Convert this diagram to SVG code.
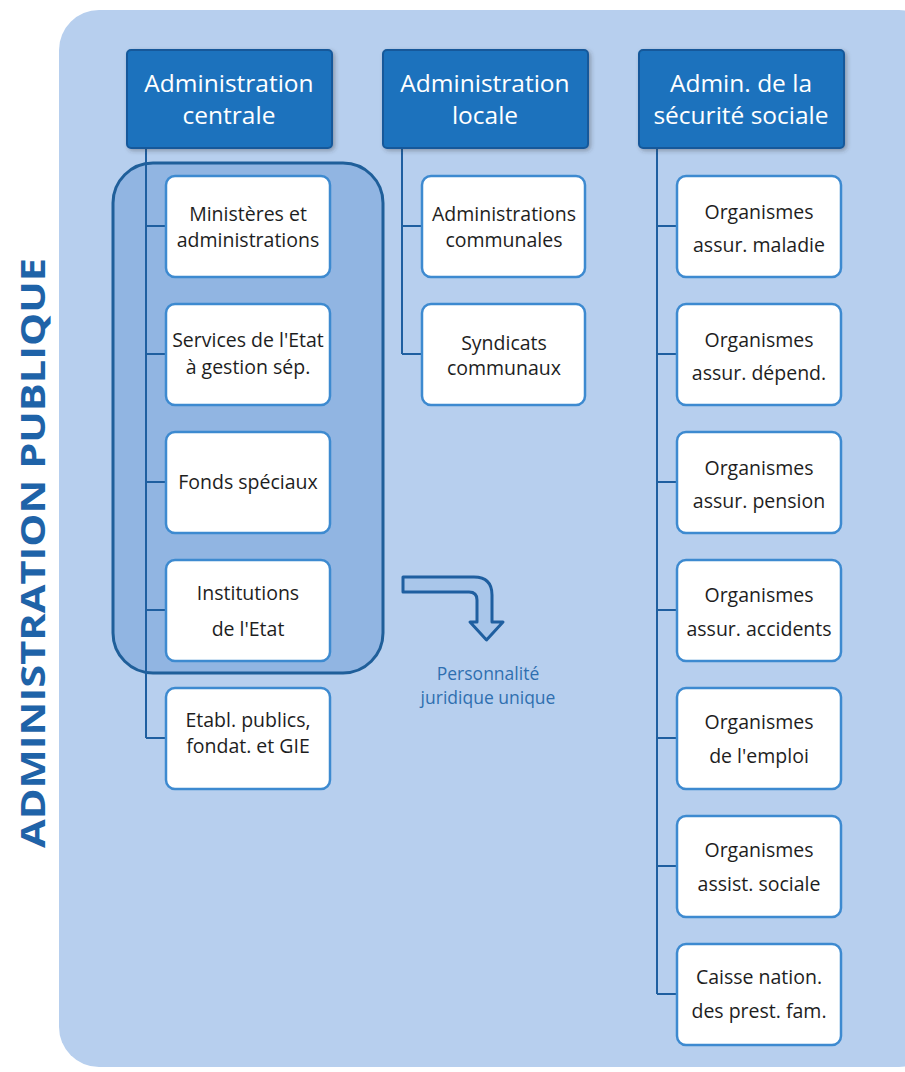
<svg xmlns="http://www.w3.org/2000/svg" width="905" height="1072" viewBox="0 0 905 1072">
<defs>
<style>
.hdr{fill:#1a72bd;stroke:#15599a;stroke-width:2}
.htxt{font-family:"Open Sans","Liberation Sans",sans-serif;font-size:24.5px;fill:#ffffff;text-anchor:middle;dominant-baseline:central}
.box{fill:#ffffff;stroke:#3d8ad0;stroke-width:2.5}
.btxt{font-family:"Open Sans","Liberation Sans",sans-serif;font-size:19.5px;fill:#1e1e1e;text-anchor:middle;dominant-baseline:central}
.conn{fill:none;stroke:#1f5fa0;stroke-width:2}
.note{font-family:"Open Sans","Liberation Sans",sans-serif;font-size:17.5px;fill:#2f6fb0;text-anchor:middle;dominant-baseline:central}
</style>
<filter id="sh" x="-10%" y="-10%" width="130%" height="130%">
<feDropShadow dx="2" dy="2" stdDeviation="2" flood-color="#333" flood-opacity="0.35"/>
</filter>
</defs>
<rect x="0" y="0" width="905" height="1072" fill="#ffffff"/>
<rect x="59" y="10" width="880" height="1057" rx="40" fill="#b7cfee"/>
<text transform="translate(32,553) rotate(-90)" font-family="'Open Sans','Liberation Sans',sans-serif" font-weight="bold" font-size="34" fill="#1f63a8" text-anchor="middle" dominant-baseline="central" textLength="590" lengthAdjust="spacingAndGlyphs">ADMINISTRATION PUBLIQUE</text>

<g id="group-highlight">
<rect x="113" y="163" width="270" height="510" rx="40" fill="#91b5e2" stroke="#1f5f9a" stroke-width="3"/>
</g>

<g id="connectors">
<path class="conn" d="M146,148 V738 M146,226 H166 M146,354 H166 M146,482 H166 M146,610 H166 M146,738 H166"/>
<path class="conn" d="M402,148 V354 M402,226 H422 M402,354 H422"/>
<path class="conn" d="M657,148 V994 M657,226 H677 M657,354 H677 M657,482 H677 M657,610 H677 M657,738 H677 M657,866 H677 M657,994 H677"/>
</g>

<g id="h1"><rect class="hdr" x="127" y="50" width="205" height="98" rx="4" filter="url(#sh)"/>
<text class="htxt" x="229" y="82">Administration</text><text class="htxt" x="229" y="114">centrale</text></g>
<g id="h2"><rect class="hdr" x="383" y="50" width="205" height="98" rx="4" filter="url(#sh)"/>
<text class="htxt" x="485" y="82">Administration</text><text class="htxt" x="485" y="114">locale</text></g>
<g id="h3"><rect class="hdr" x="639" y="50" width="205" height="98" rx="4" filter="url(#sh)"/>
<text class="htxt" x="741" y="82">Admin. de la</text><text class="htxt" x="741" y="114">sécurité sociale</text></g>

<g id="c1-1"><rect class="box" x="166" y="176" width="164" height="101" rx="9"/>
<text class="btxt" x="248" y="213">Ministères et</text><text class="btxt" x="248" y="239">administrations</text></g>
<g id="c1-2"><rect class="box" x="166" y="304" width="164" height="101" rx="9"/>
<text class="btxt" x="248" y="339" font-size="18">Services de l'Etat</text><text class="btxt" x="248" y="366" font-size="18">à gestion sép.</text></g>
<g id="c1-3"><rect class="box" x="166" y="432" width="164" height="101" rx="9"/>
<text class="btxt" x="248" y="481">Fonds spéciaux</text></g>
<g id="c1-4"><rect class="box" x="166" y="560" width="164" height="101" rx="9"/>
<text class="btxt" x="248" y="592">Institutions</text><text class="btxt" x="248" y="628">de l'Etat</text></g>
<g id="c1-5"><rect class="box" x="166" y="688" width="164" height="101" rx="9"/>
<text class="btxt" x="248" y="719">Etabl. publics,</text><text class="btxt" x="248" y="745">fondat. et GIE</text></g>

<g id="c2-1"><rect class="box" x="422" y="176" width="163" height="101" rx="9"/>
<text class="btxt" x="504" y="213">Administrations</text><text class="btxt" x="504" y="239">communales</text></g>
<g id="c2-2"><rect class="box" x="422" y="304" width="163" height="101" rx="9"/>
<text class="btxt" x="504" y="342">Syndicats</text><text class="btxt" x="504" y="367">communaux</text></g>

<g id="c3-1"><rect class="box" x="677" y="176" width="164" height="101" rx="9"/>
<text class="btxt" x="759" y="211">Organismes</text><text class="btxt" x="759" y="244">assur. maladie</text></g>
<g id="c3-2"><rect class="box" x="677" y="304" width="164" height="101" rx="9"/>
<text class="btxt" x="759" y="339">Organismes</text><text class="btxt" x="759" y="372">assur. dépend.</text></g>
<g id="c3-3"><rect class="box" x="677" y="432" width="164" height="101" rx="9"/>
<text class="btxt" x="759" y="467">Organismes</text><text class="btxt" x="759" y="500">assur. pension</text></g>
<g id="c3-4"><rect class="box" x="677" y="560" width="164" height="101" rx="9"/>
<text class="btxt" x="759" y="594">Organismes</text><text class="btxt" x="759" y="628">assur. accidents</text></g>
<g id="c3-5"><rect class="box" x="677" y="688" width="164" height="101" rx="9"/>
<text class="btxt" x="759" y="721">Organismes</text><text class="btxt" x="759" y="755">de l'emploi</text></g>
<g id="c3-6"><rect class="box" x="677" y="816" width="164" height="101" rx="9"/>
<text class="btxt" x="759" y="849">Organismes</text><text class="btxt" x="759" y="883">assist. sociale</text></g>
<g id="c3-7"><rect class="box" x="677" y="944" width="164" height="101" rx="9"/>
<text class="btxt" x="759" y="976">Caisse nation.</text><text class="btxt" x="759" y="1010">des prest. fam.</text></g>

<g id="arrow">
<path d="M403,577 H474 Q492,577 492,595 V622 H503 L486.5,640 L470,622 H477 V600 Q477,592 469,592 H403 Z" fill="#a9c6ea" stroke="#1f5fa0" stroke-width="3" stroke-linejoin="round"/>
</g>
<g id="note">
<text class="note" x="488" y="673">Personnalité</text>
<text class="note" x="488" y="697">juridique unique</text>
</g>
</svg>
